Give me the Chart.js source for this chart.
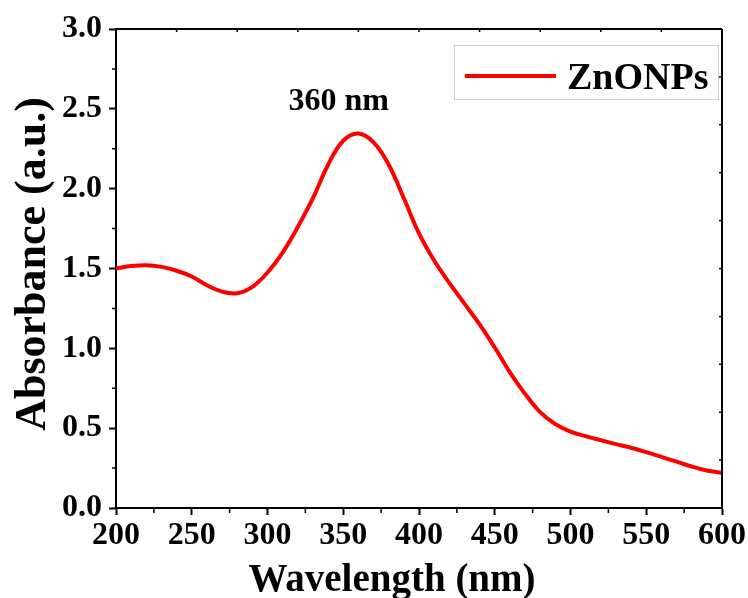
<!DOCTYPE html>
<html>
<head>
<meta charset="utf-8">
<script src="https://cdn.jsdelivr.net/npm/chart.js@4.4.0/dist/chart.umd.min.js"></script>
<style>
  html, body { margin: 0; padding: 0; background: #fff; }
  #wrap { width: 748px; height: 598px; }
</style>
</head>
<body>
<div id="wrap"><canvas id="c" width="748" height="598"></canvas></div>
<script>
// ---- data ----
const wavelengths = [200,210,220,230,240,250,260,270,280,290,300,310,320,330,340,350,360,370,380,390,400,410,420,430,440,450,460,470,480,490,500,510,520,530,540,550,560,570,580,590,600];
const absorbance  = [1.50,1.515,1.52,1.51,1.486,1.45,1.395,1.355,1.345,1.385,1.475,1.60,1.76,1.94,2.15,2.30,2.345,2.29,2.15,1.94,1.72,1.55,1.41,1.28,1.15,1.005,0.85,0.715,0.60,0.525,0.478,0.45,0.425,0.40,0.377,0.35,0.32,0.29,0.26,0.235,0.22];
const seriesName = 'ZnONPs';
const peakLabel = '360 nm';
const xTitle = 'Wavelength (nm)';
const yTitle = 'Absorbance (a.u.)';
const xMajorTicks = [200,250,300,350,400,450,500,550,600];
const yMajorTicks = [0.0,0.5,1.0,1.5,2.0,2.5,3.0];

const FONT = "'Liberation Serif', 'Times New Roman', serif";
const points = wavelengths.map((w, i) => ({ x: w, y: absorbance[i] }));

const decorPlugin = {
  id: 'decor',
  afterDraw(chart) {
    const ctx = chart.ctx;
    const a = chart.chartArea;
    const xs = chart.scales.x, ys = chart.scales.y;
    ctx.save();
    ctx.strokeStyle = '#000';
    ctx.lineWidth = 2;
    ctx.beginPath();
    ctx.moveTo(a.left - 1, a.top); ctx.lineTo(a.right, a.top);
    ctx.moveTo(a.right, a.top); ctx.lineTo(a.right, a.bottom + 1);
    ctx.stroke();
    ctx.lineWidth = 1.5;
    ctx.beginPath();
    for (let i = 0; i < xMajorTicks.length - 1; i++) {
      const px = xs.getPixelForValue((xMajorTicks[i] + xMajorTicks[i+1]) / 2);
      ctx.moveTo(px, a.bottom); ctx.lineTo(px, a.bottom + 5);
    }
    for (let i = 0; i < yMajorTicks.length - 1; i++) {
      const py = ys.getPixelForValue((yMajorTicks[i] + yMajorTicks[i+1]) / 2);
      ctx.moveTo(a.left, py); ctx.lineTo(a.left - 4, py);
    }
    for (let v = 240; v < 600; v += 40) {
      const px = xs.getPixelForValue(v);
      ctx.moveTo(px, a.top); ctx.lineTo(px, a.top + 3);
    }
    for (let k = 1; k <= 9; k++) {
      const py = ys.getPixelForValue(k * 0.3);
      ctx.moveTo(a.right, py); ctx.lineTo(a.right - 3, py);
    }
    ctx.stroke();

    ctx.fillStyle = '#000';
    ctx.font = 'bold 39px ' + FONT;
    ctx.textAlign = 'center';
    ctx.textBaseline = 'alphabetic';
    ctx.fillText(xTitle, 392, 591);
    ctx.save();
    ctx.translate(45, 264);
    ctx.rotate(-Math.PI / 2);
    ctx.font = 'bold 44px ' + FONT;
    ctx.fillText(yTitle, 0, 0);
    ctx.restore();

    ctx.font = 'bold 32px ' + FONT;
    ctx.textAlign = 'center';
    ctx.fillText(peakLabel, xs.getPixelForValue(347), 110);

    ctx.strokeStyle = '#cfcfcf';
    ctx.lineWidth = 1;
    ctx.strokeRect(454.5, 45.5, 264, 54);
    ctx.strokeStyle = chart.data.datasets[0].borderColor;
    ctx.lineWidth = 4;
    ctx.beginPath();
    ctx.moveTo(465, 76); ctx.lineTo(556, 76);
    ctx.stroke();
    ctx.fillStyle = '#000';
    ctx.font = 'bold 38px ' + FONT;
    ctx.textAlign = 'left';
    ctx.fillText(seriesName, 567, 89);
    ctx.restore();
  }
};

new Chart(document.getElementById('c'), {
  type: 'line',
  data: {
    datasets: [{
      label: seriesName,
      data: points,
      borderColor: '#ff0000',
      borderWidth: 4,
      pointRadius: 0,
      tension: 0.4,
      fill: false
    }]
  },
  options: {
    responsive: false,
    animation: false,
    layout: { padding: { top: 29, right: 26, left: 0, bottom: 0 } },
    plugins: { legend: { display: false }, tooltip: { enabled: false } },
    scales: {
      x: {
        type: 'linear',
        min: 200, max: 600,
        afterBuildTicks: (s) => { s.ticks = xMajorTicks.map(v => ({ value: v })); },
        afterFit: (s) => { s.height = 90; },
        border: { display: true, color: '#000', width: 2 },
        grid: { drawOnChartArea: false, drawTicks: true, tickLength: 7, tickColor: '#000', tickWidth: 2 },
        ticks: {
          color: '#000', padding: 2,
          font: { family: FONT, weight: 'bold', size: 32 },
          callback: (v) => String(v)
        }
      },
      y: {
        min: 0, max: 3,
        afterBuildTicks: (s) => { s.ticks = yMajorTicks.map(v => ({ value: v })); },
        afterFit: (s) => { s.width = 116; },
        border: { display: true, color: '#000', width: 2 },
        grid: { drawOnChartArea: false, drawTicks: true, tickLength: 7, tickColor: '#000', tickWidth: 2 },
        ticks: {
          color: '#000', padding: 7,
          font: { family: FONT, weight: 'bold', size: 32 },
          callback: (v) => Number(v).toFixed(1)
        }
      }
    }
  },
  plugins: [decorPlugin]
});
</script>
</body>
</html>
